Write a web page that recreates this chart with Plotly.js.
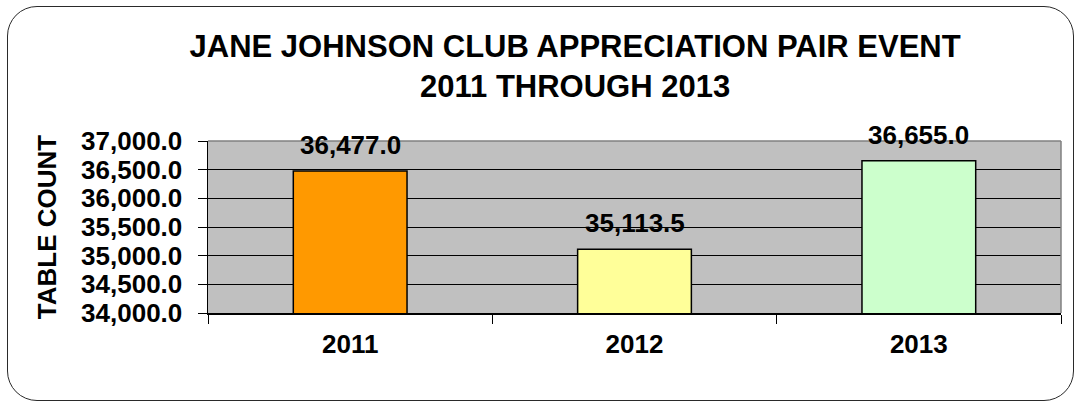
<!DOCTYPE html>
<html>
<head>
<meta charset="utf-8">
<script src="https://cdn.plot.ly/plotly-3.0.1.min.js"></script>
<style>
  html, body { margin: 0; padding: 0; background: #ffffff; }
  #wrap { position: relative; width: 1078px; height: 405px; overflow: hidden; }
  #frame {
    position: absolute; left: 7px; top: 6px; width: 1067px; height: 395px;
    border: 1.5px solid #2a2a2a; border-radius: 30px; box-sizing: border-box;
  }
  #chart { position: absolute; left: 0; top: 0; width: 1078px; height: 405px; }
</style>
</head>
<body>
<div id="wrap">
  <div id="frame"></div>
  <div id="chart"></div>
</div>
<script>
// Yearly table counts for the pair event
const years = ['2011', '2012', '2013'];
const tableCounts = [36477.0, 35113.5, 36655.0];
const barColors = ['#FF9900', '#FFFF99', '#CCFFCC'];
const yTickValues = [34000, 34500, 35000, 35500, 36000, 36500, 37000];

const FONT = '"Liberation Sans", Arial, Helvetica, sans-serif';

const fmt = v => v.toLocaleString('en-US', { minimumFractionDigits: 1, maximumFractionDigits: 1 });

const trace = {
  type: 'bar',
  x: years,
  y: tableCounts,
  width: 0.4,
  marker: { color: barColors, line: { color: '#000000', width: 1.5 } },
  hoverinfo: 'x+y'
};

// Value labels above each bar (x given as category index)
const valueLabels = years.map((yr, i) => ({
  x: i, y: tableCounts[i], xref: 'x', yref: 'y',
  text: fmt(tableCounts[i]),
  showarrow: false, yanchor: 'bottom', yshift: 9,
  font: { family: FONT, size: 26, color: '#000000', weight: 'bold' }
}));

const layout = {
  width: 1078, height: 405,
  margin: { l: 208, r: 17, t: 141, b: 92 },
  paper_bgcolor: 'rgba(0,0,0,0)',
  plot_bgcolor: '#C0C0C0',
  showlegend: false,
  title: {
    text: 'JANE JOHNSON CLUB APPRECIATION PAIR EVENT<br>2011 THROUGH 2013',
    font: { family: FONT, size: 31, color: '#000000', weight: 'bold' },
    xref: 'container', yref: 'container',
    x: 0.5335, xanchor: 'center',
    y: 0.86, yanchor: 'middle'
  },
  xaxis: {
    type: 'category',
    categoryarray: years,
    range: [-0.5, years.length - 0.5],
    showgrid: false,
    showline: true, linecolor: '#000000', linewidth: 1.5,
    ticks: 'outside', tickson: 'boundaries', ticklen: 9, tickcolor: '#000000', tickwidth: 1,
    tickangle: 0,
    ticklabelstandoff: 7,
    tickfont: { family: FONT, size: 26, color: '#000000', weight: 'bold' },
    fixedrange: true
  },
  yaxis: {
    range: [34000, 37000],
    tickvals: yTickValues,
    tickformat: ',.1f',
    showgrid: true, gridcolor: '#000000', gridwidth: 1,
    zeroline: false,
    showline: true, linecolor: '#000000', linewidth: 1.5,
    ticks: 'outside', ticklen: 9, tickcolor: '#000000', tickwidth: 1,
    ticklabelstandoff: 10,
    tickfont: { family: FONT, size: 26, color: '#000000', weight: 'bold' },
    automargin: true,
    title: {
      text: 'TABLE COUNT',
      standoff: 17,
      font: { family: FONT, size: 26, color: '#000000', weight: 'bold' }
    },
    fixedrange: true
  },
  shapes: [
    // grey top and right edges of the plot area
    { type: 'line', xref: 'paper', yref: 'paper', x0: 0, x1: 1, y0: 1, y1: 1,
      line: { color: '#808080', width: 1.5 }, layer: 'above' },
    { type: 'line', xref: 'paper', yref: 'paper', x0: 1, x1: 1, y0: 0, y1: 1,
      line: { color: '#808080', width: 1.5 }, layer: 'above' }
  ],
  annotations: valueLabels
};

Plotly.newPlot('chart', [trace], layout, { displayModeBar: false, staticPlot: true });
</script>
</body>
</html>
